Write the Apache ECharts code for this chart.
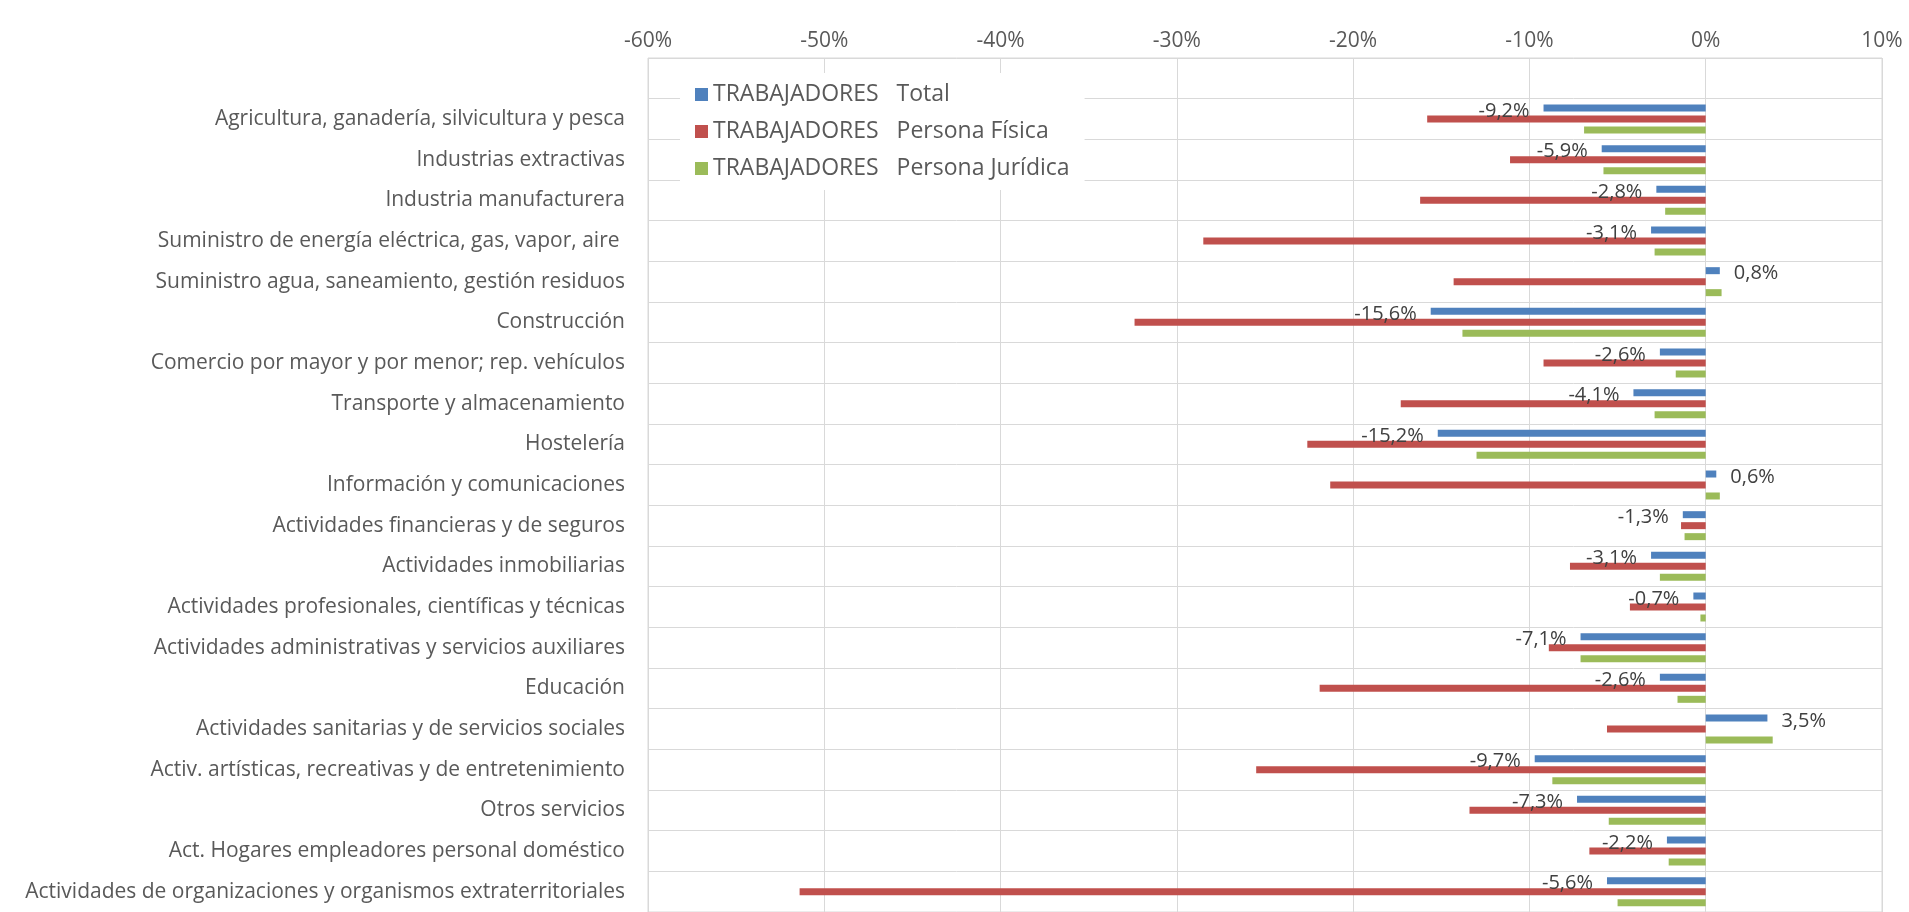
<!DOCTYPE html>
<html>
<head>
<meta charset="utf-8">
<script src="https://cdn.jsdelivr.net/npm/echarts@6/dist/echarts.min.js"></script>
<style>
  html, body { margin: 0; padding: 0; background: #fff; }
  #chart { width: 1909px; height: 912px; }
</style>
</head>
<body>
<div id="chart"></div>
<script>
// categorias (la primera fila queda vacia, como en el original)
var categorias = ['',
  'Agricultura, ganadería, silvicultura y pesca',
  'Industrias extractivas',
  'Industria manufacturera',
  'Suministro de energía eléctrica, gas, vapor, aire ',
  'Suministro agua, saneamiento, gestión residuos',
  'Construcción',
  'Comercio por mayor y por menor; rep. vehículos',
  'Transporte y almacenamiento',
  'Hostelería',
  'Información y comunicaciones',
  'Actividades financieras y de seguros',
  'Actividades inmobiliarias',
  'Actividades profesionales, científicas y técnicas',
  'Actividades administrativas y servicios auxiliares',
  'Educación',
  'Actividades sanitarias y de servicios sociales',
  'Activ. artísticas, recreativas y de entretenimiento',
  'Otros servicios',
  'Act. Hogares empleadores personal doméstico',
  'Actividades de organizaciones y organismos extraterritoriales'
];

var total = [null, -9.2, -5.9, -2.8, -3.1, 0.8, -15.6, -2.6, -4.1, -15.2, 0.6,
  -1.3, -3.1, -0.7, -7.1, -2.6, 3.5, -9.7, -7.3, -2.2, -5.6];
var personaFisica = [null, -15.8, -11.1, -16.2, -28.5, -14.3, -32.4, -9.2, -17.3, -22.6, -21.3,
  -1.4, -7.7, -4.3, -8.9, -21.9, -5.6, -25.5, -13.4, -6.6, -51.4];
var personaJuridica = [null, -6.9, -5.8, -2.3, -2.9, 0.9, -13.8, -1.7, -2.9, -13.0, 0.8,
  -1.2, -2.6, -0.3, -7.1, -1.6, 3.8, -8.7, -5.5, -2.1, -5.0];

var nombres = ['TRABAJADORES   Total', 'TRABAJADORES   Persona Física', 'TRABAJADORES   Persona Jurídica'];
var colores = ['#4F81BD', '#C0504D', '#9BBB59'];

var chart = echarts.init(document.getElementById('chart'));

function fmt(v) {
  return v.toFixed(1).replace('.', ',') + '%';
}

var datosTotal = total.map(function (v) {
  if (v === null) return null;
  return { value: v, label: { position: v < 0 ? 'left' : 'right' } };
});

var option = {
  backgroundColor: '#fff',
  textStyle: { fontFamily: 'Open Sans' },
  color: colores,
  legend: {
    orient: 'vertical',
    left: 680,
    top: 73,
    padding: [10, 15, 10, 15],
    backgroundColor: '#fff',
    itemWidth: 13,
    itemHeight: 13,
    itemGap: 14,
    icon: 'rect',
    data: nombres,
    textStyle: { fontSize: 23, color: '#595959', fontFamily: 'Open Sans' }
  },
  grid: {
    left: 648,
    top: 58,
    width: 1234,
    height: 857,
    show: true,
    borderColor: '#d9d9d9',
    borderWidth: 1
  },
  xAxis: {
    type: 'value',
    position: 'top',
    min: -60,
    max: 10,
    interval: 10,
    axisLine: { show: false },
    axisTick: { show: false },
    axisLabel: {
      fontSize: 21,
      color: '#595959',
      margin: 6,
      formatter: function (v) { return v + '%'; }
    },
    splitLine: { lineStyle: { color: '#d9d9d9', width: 1 } }
  },
  yAxis: {
    type: 'category',
    inverse: true,
    data: categorias,
    axisLine: { show: false, onZero: false },
    axisTick: { show: false },
    axisLabel: { fontSize: 21, color: '#595959', margin: 23 },
    splitLine: { show: true, lineStyle: { color: '#d9d9d9', width: 1 } }
  },
  series: [
    {
      name: nombres[0],
      type: 'bar',
      barWidth: 7,
      barGap: '57%',
      data: datosTotal,
      label: {
        show: true,
        distance: 14,
        offset: [0, 3],
        fontSize: 20,
        color: '#404040',
        formatter: function (p) { return fmt(p.value); }
      }
    },
    {
      name: nombres[1],
      type: 'bar',
      barWidth: 7,
      barGap: '57%',
      data: personaFisica
    },
    {
      name: nombres[2],
      type: 'bar',
      barWidth: 7,
      barGap: '57%',
      data: personaJuridica
    }
  ]
};

chart.setOption(option);
</script>
</body>
</html>
